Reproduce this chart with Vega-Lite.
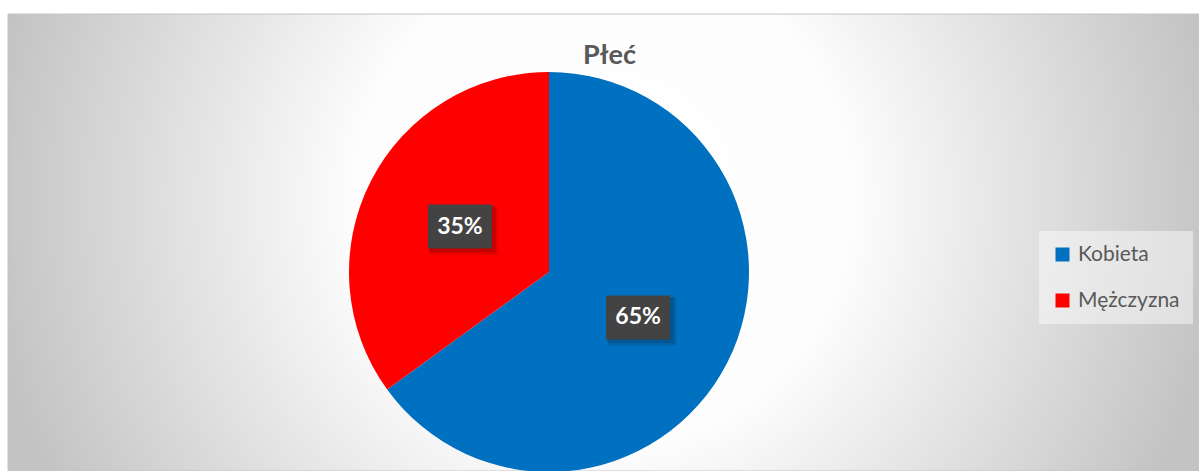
{
  "$schema": "https://vega.github.io/schema/vega-lite/v6.json",
  "width": 1191,
  "height": 457,
  "autosize": {"type": "none"},
  "padding": {"left": 8, "top": 14, "right": 0, "bottom": 0},
  "background": "#ffffff",
  "title": {"text": "Płeć", "anchor": "middle", "frame": "group", "fontSize": 27, "font": "Lato", "fontWeight": "bold", "color": "#595959", "offset": -56, "dx": 6},
  "config": {"view": {"stroke": null}},
  "datasets": {
    "pie": [
      {"category": "Kobieta", "value": 65},
      {"category": "Mężczyzna", "value": 35}
    ]
  },
  "layer": [
    {
      "data": {"values": [{"panel": "chart area"}]},
      "mark": {
        "type": "rect",
        "color": {
          "gradient": "radial",
          "x1": 0.5, "y1": 0.4643, "r1": 0,
          "x2": 0.5, "y2": 0.4643, "r2": 0.52,
          "stops": [
            {"offset": 0, "color": "#ffffff"},
            {"offset": 0.4, "color": "#fdfdfd"},
            {"offset": 1, "color": "#c3c3c3"}
          ]
        },
        "stroke": "#c4c4c4",
        "strokeWidth": 1
      },
      "encoding": {}
    },
    {
      "data": {"name": "pie"},
      "transform": [
        {"window": [{"op": "sum", "field": "value", "as": "cum"}], "sort": [{"field": "category", "order": "ascending"}]},
        {"joinaggregate": [{"op": "sum", "field": "value", "as": "total"}]},
        {"calculate": "datum.value / datum.total", "as": "share"},
        {"calculate": "(datum.cum - datum.value / 2) / datum.total * 2 * PI", "as": "ang"},
        {"calculate": "0.5 * sin(datum.ang)", "as": "lx"},
        {"calculate": "0.5 * cos(datum.ang)", "as": "ly"}
      ],
      "layer": [
        {
          "mark": {"type": "arc", "outerRadius": 200},
          "encoding": {
            "x": {"datum": 0, "type": "quantitative", "scale": {"domain": [-2.705, 3.25], "nice": false, "zero": false}, "axis": null},
            "y": {"datum": 0, "type": "quantitative", "scale": {"domain": [-0.995, 1.29], "nice": false, "zero": false}, "axis": null},
            "theta": {"field": "value", "type": "quantitative", "stack": true},
            "order": {"field": "category", "sort": "ascending"},
            "color": {
              "field": "category",
              "type": "nominal",
              "scale": {"domain": ["Kobieta", "Mężczyzna"], "range": ["#0070C0", "#FF0000"]},
              "legend": {
                "orient": "none",
                "legendX": 1031,
                "legendY": 217,
                "title": null,
                "symbolType": "square",
                "symbolSize": 196,
                "symbolStrokeWidth": 0,
                "labelFontSize": 21,
                "labelFont": "Lato",
                "labelColor": "#595959",
                "labelOffset": 5,
                "rowPadding": 24,
                "padding": 13,
                "fillColor": "rgba(255,255,255,0.45)"
              }
            }
          }
        },
        {
          "mark": {"type": "point", "shape": "M-0.94,-0.62L1.2,-0.62L1.2,0.88L-0.94,0.88Z", "size": 4096, "filled": true, "color": "#000000", "opacity": 0.1},
          "encoding": {
            "x": {"field": "lx", "type": "quantitative", "scale": {"domain": [-2.705, 3.25], "nice": false, "zero": false}, "axis": null},
            "y": {"field": "ly", "type": "quantitative", "scale": {"domain": [-0.995, 1.29], "nice": false, "zero": false}, "axis": null}
          }
        },
        {
          "mark": {"type": "point", "shape": "M-0.96,-0.64L1.12,-0.64L1.12,0.8L-0.96,0.8Z", "size": 4096, "filled": true, "color": "#000000", "opacity": 0.14},
          "encoding": {
            "x": {"field": "lx", "type": "quantitative", "scale": {"domain": [-2.705, 3.25], "nice": false, "zero": false}, "axis": null},
            "y": {"field": "ly", "type": "quantitative", "scale": {"domain": [-0.995, 1.29], "nice": false, "zero": false}, "axis": null}
          }
        },
        {
          "mark": {"type": "point", "shape": "M-1,-0.6875L1,-0.6875L1,0.6875L-1,0.6875Z", "size": 4096, "filled": true, "color": "#434343", "opacity": 1},
          "encoding": {
            "x": {"field": "lx", "type": "quantitative", "scale": {"domain": [-2.705, 3.25], "nice": false, "zero": false}, "axis": null},
            "y": {"field": "ly", "type": "quantitative", "scale": {"domain": [-0.995, 1.29], "nice": false, "zero": false}, "axis": null}
          }
        },
        {
          "mark": {"type": "text", "font": "Lato", "fontSize": 23, "fontWeight": "bold", "color": "#ffffff", "align": "center", "baseline": "middle"},
          "encoding": {
            "x": {"field": "lx", "type": "quantitative", "scale": {"domain": [-2.705, 3.25], "nice": false, "zero": false}, "axis": null},
            "y": {"field": "ly", "type": "quantitative", "scale": {"domain": [-0.995, 1.29], "nice": false, "zero": false}, "axis": null},
            "text": {"field": "share", "type": "quantitative", "format": ".0%"}
          }
        }
      ]
    }
  ]
}
